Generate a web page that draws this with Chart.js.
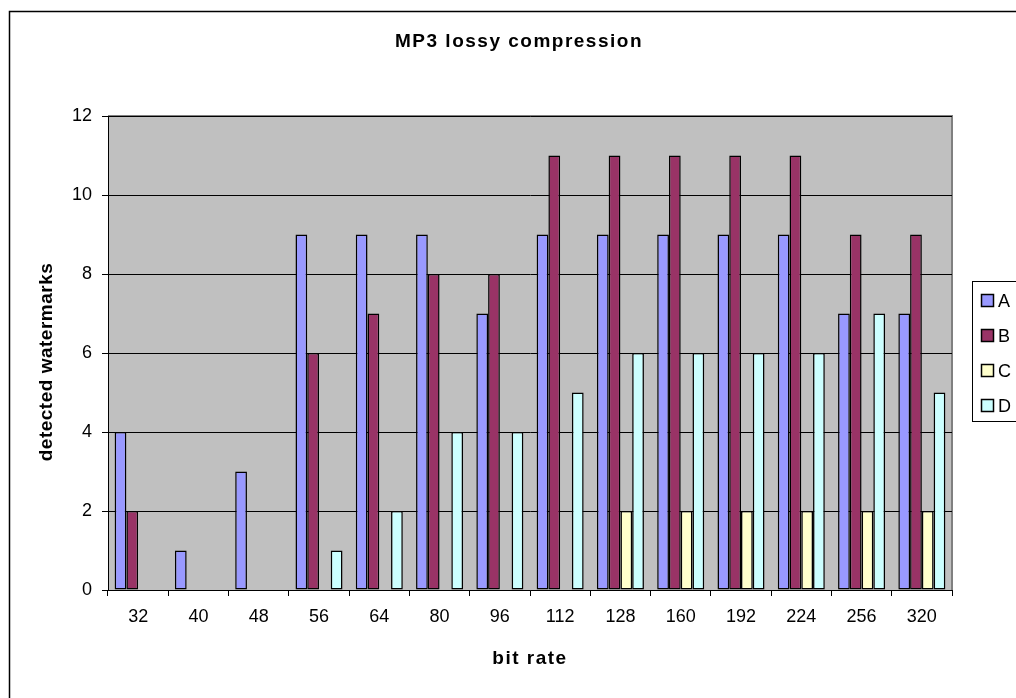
<!DOCTYPE html>
<html>
<head>
<meta charset="utf-8">
<script src="https://cdn.jsdelivr.net/npm/chart.js@4.4.1/dist/chart.umd.min.js"></script>
<style>
  html, body { margin: 0; padding: 0; background: #fff; }
  canvas { display: block; }
</style>
</head>
<body>
<canvas id="c" width="1016" height="698"></canvas>
<script>
// Bit rates (kbps) on the category axis
const bitRates = ['32', '40', '48', '56', '64', '80', '96', '112', '128', '160', '192', '224', '256', '320'];

// Detected watermarks per test set
const seriesA = [4, 1, 3, 9, 9, 9, 7, 9, 9, 9, 9, 9, 7, 7];
const seriesB = [2, 0, 0, 6, 7, 8, 8, 11, 11, 11, 11, 11, 9, 9];
const seriesC = [0, 0, 0, 0, 0, 0, 0, 0, 2, 2, 2, 2, 2, 2];
const seriesD = [0, 0, 0, 1, 2, 4, 4, 5, 6, 6, 6, 6, 7, 5];

const seriesNames = ['A', 'B', 'C', 'D'];
const yTicks = [0, 2, 4, 6, 8, 10, 12];

const titleText = 'MP3 lossy compression';
const xTitle = 'bit rate';
const yTitle = 'detected watermarks';

const colors = ['#9999FF', '#993366', '#FFFFCC', '#CCFFFF'];
const FONT = '"Liberation Sans", Arial, sans-serif';

// Frame, plot background, titles and the side legend
const decor = {
  id: 'decor',
  beforeDraw(chart) {
    const { ctx, chartArea: a } = chart;
    ctx.save();
    ctx.fillStyle = '#C0C0C0';
    ctx.fillRect(a.left, a.top, a.right - a.left, a.bottom - a.top);
    ctx.strokeStyle = '#808080';
    ctx.lineWidth = 2;
    ctx.beginPath();
    ctx.moveTo(a.left, a.top);
    ctx.lineTo(a.right, a.top);
    ctx.lineTo(a.right, a.bottom);
    ctx.stroke();
    ctx.restore();
  },
  afterDraw(chart) {
    const { ctx, chartArea: a } = chart;
    ctx.save();
    // outer chart frame
    ctx.strokeStyle = '#000';
    ctx.lineWidth = 1.5;
    ctx.strokeRect(9.5, 11.5, 1040, 720);

    ctx.fillStyle = '#000';
    ctx.textAlign = 'center';
    ctx.textBaseline = 'middle';
    ctx.font = 'bold 19px ' + FONT;
    ctx.letterSpacing = '1.5px';
    ctx.fillText(titleText, 519, 42);
    ctx.fillText(xTitle, (a.left + a.right) / 2, 659);
    ctx.save();
    ctx.translate(47, 362);
    ctx.rotate(-Math.PI / 2);
    ctx.letterSpacing = '0.5px';
    ctx.fillText(yTitle, 0, 0);
    ctx.restore();
    ctx.letterSpacing = '0px';

    // legend box
    ctx.fillStyle = '#fff';
    ctx.fillRect(972.5, 281.5, 80, 140);
    ctx.strokeStyle = '#000';
    ctx.lineWidth = 1;
    ctx.strokeRect(972.5, 281.5, 80, 140);
    ctx.font = '18px ' + FONT;
    ctx.textAlign = 'left';
    chart.data.datasets.forEach((ds, i) => {
      const cy = 301 + i * 35;
      ctx.fillStyle = ds.backgroundColor;
      ctx.fillRect(981.5, cy - 6.5, 12, 12);
      ctx.strokeStyle = '#000';
      ctx.lineWidth = 1.5;
      ctx.strokeRect(981.5, cy - 6.5, 12, 12);
      ctx.fillStyle = '#000';
      ctx.fillText(ds.label, 998, cy + 1);
    });
    ctx.restore();
  }
};

const seriesData = [seriesA, seriesB, seriesC, seriesD];

new Chart(document.getElementById('c'), {
  type: 'bar',
  data: {
    labels: bitRates,
    datasets: seriesData.map((vals, i) => ({
      label: seriesNames[i],
      data: vals,
      backgroundColor: colors[i],
      borderColor: '#000',
      borderWidth: ctx => (ctx.raw === 0 ? 0 : 1.5),
      borderSkipped: false,
      categoryPercentage: 0.78,
      barPercentage: 1.0
    }))
  },
  options: {
    responsive: false,
    animation: false,
    devicePixelRatio: 1,
    layout: { padding: { left: 0, right: 64, top: 116, bottom: 0 } },
    plugins: {
      legend: { display: false },
      title: { display: false },
      tooltip: { enabled: false }
    },
    scales: {
      x: {
        afterFit(scale) { scale.height = 108; },
        grid: {
          offset: true,
          drawOnChartArea: false,
          drawTicks: true,
          tickLength: 6,
          color: '#000'
        },
        border: { display: true, color: '#000', width: 1 },
        ticks: {
          color: '#000',
          font: { family: FONT, size: 18 },
          padding: 10,
          maxRotation: 0
        }
      },
      y: {
        min: 0,
        max: 12,
        afterFit(scale) { scale.width = 108; },
        afterBuildTicks(scale) { scale.ticks = yTicks.map(v => ({ value: v })); },
        grid: {
          color: '#000',
          lineWidth: 1,
          tickLength: 6
        },
        border: { display: true, color: '#000', width: 1 },
        ticks: {
          color: '#000',
          font: { family: FONT, size: 18 },
          padding: 10
        }
      }
    }
  },
  plugins: [decor]
});
</script>
</body>
</html>
